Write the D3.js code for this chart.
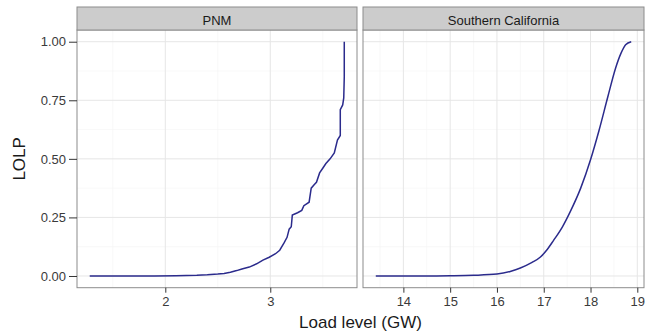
<!DOCTYPE html>
<html>
<head>
<meta charset="utf-8">
<script src="https://cdn.jsdelivr.net/npm/d3@7"></script>
<style>
  html, body { margin: 0; padding: 0; background: #fff; }
  svg { display: block; font-family: 'Liberation Sans', Arial, sans-serif; }
</style>
</head>
<body>
<div id="chart"></div>
<script>
// Data
const panels = ['PNM', 'Southern California'];

const pnmLoad = [1.28, 1.9, 2.1, 2.3, 2.4, 2.5, 2.56, 2.62, 2.68, 2.73, 2.8, 2.87, 2.93, 2.99, 3.05, 3.09, 3.13, 3.16, 3.18, 3.2, 3.21, 3.26, 3.3, 3.32, 3.37, 3.39, 3.42, 3.44, 3.47, 3.5, 3.53, 3.57, 3.61, 3.64, 3.667, 3.667, 3.69, 3.70, 3.705, 3.705];
const pnmLolp = [0, 0, 0.001, 0.003, 0.005, 0.008, 0.011, 0.016, 0.023, 0.03, 0.038, 0.052, 0.068, 0.08, 0.095, 0.11, 0.14, 0.165, 0.2, 0.21, 0.26, 0.27, 0.28, 0.3, 0.315, 0.375, 0.39, 0.40, 0.44, 0.46, 0.48, 0.5, 0.525, 0.58, 0.60, 0.71, 0.73, 0.76, 0.85, 1.0];

const socalLoad = [13.41, 14.5, 15.0, 15.5, 16.0, 16.3, 16.5, 16.75, 16.93, 17.07, 17.21, 17.4, 17.58, 17.79, 18.0, 18.18, 18.37, 18.54, 18.65, 18.75, 18.87];
const socalLolp = [0, 0, 0.001, 0.003, 0.008, 0.02, 0.034, 0.058, 0.081, 0.112, 0.152, 0.21, 0.28, 0.375, 0.496, 0.62, 0.765, 0.89, 0.95, 0.987, 1.0];

const yTicks = [0, 0.25, 0.5, 0.75, 1];
const yMinor = [0.125, 0.375, 0.625, 0.875];
const pnmTicks = [2, 3];
const pnmMinor = [1.5, 2.5, 3.5];
const socalTicks = [14, 15, 16, 17, 18, 19];
const socalMinor = [13.5, 14.5, 15.5, 16.5, 17.5, 18.5];

const width = 653, height = 335;
const lineColor = '#2b2b8c';
const fontFam = "'Liberation Sans', Arial, sans-serif";

const svg = d3.select('#chart').append('svg')
    .attr('width', width)
    .attr('height', height);

svg.append('rect').attr('width', width).attr('height', height).attr('fill', '#fff');

const stripTop = 7, stripH = 23;
const panelTop = stripTop + stripH, panelBottom = 287.7;

// y scale with ggplot style 5% expansion
const y = d3.scaleLinear().domain([-0.05, 1.05]).range([panelBottom, panelTop]);

function expand(ext) {
    const r = ext[1] - ext[0];
    return [ext[0] - r * 0.05, ext[1] + r * 0.05];
}

const facets = [
    { name: panels[0], load: pnmLoad, lolp: pnmLolp, ticks: pnmTicks, minor: pnmMinor, x0: 77, x1: 357, curve: d3.curveLinear },
    { name: panels[1], load: socalLoad, lolp: socalLolp, ticks: socalTicks, minor: socalMinor, x0: 363, x1: 644, curve: d3.curveMonotoneX }
];

facets.forEach(f => {
    const x = d3.scaleLinear().domain(expand(d3.extent(f.load))).range([f.x0, f.x1]);
    const g = svg.append('g');
    const w = f.x1 - f.x0;

    // minor grid
    g.append('g').selectAll('line').data(yMinor).join('line')
        .attr('x1', f.x0).attr('x2', f.x1)
        .attr('y1', d => y(d)).attr('y2', d => y(d))
        .attr('stroke', '#f5f5f5').attr('stroke-width', 0.7);
    g.append('g').selectAll('line').data(f.minor).join('line')
        .attr('x1', d => x(d)).attr('x2', d => x(d))
        .attr('y1', panelTop).attr('y2', panelBottom)
        .attr('stroke', '#f5f5f5').attr('stroke-width', 0.7);

    // major grid
    g.append('g').selectAll('line').data(yTicks).join('line')
        .attr('x1', f.x0).attr('x2', f.x1)
        .attr('y1', d => y(d)).attr('y2', d => y(d))
        .attr('stroke', '#e6e6e6').attr('stroke-width', 1);
    g.append('g').selectAll('line').data(f.ticks).join('line')
        .attr('x1', d => x(d)).attr('x2', d => x(d))
        .attr('y1', panelTop).attr('y2', panelBottom)
        .attr('stroke', '#e6e6e6').attr('stroke-width', 1);

    // data line
    const data = f.load.map((d, i) => [d, f.lolp[i]]);
    g.append('path')
        .datum(data)
        .attr('fill', 'none')
        .attr('stroke', lineColor)
        .attr('stroke-width', 1.5)
        .attr('d', d3.line().curve(f.curve).x(d => x(d[0])).y(d => y(d[1])));

    // panel border
    g.append('rect')
        .attr('x', f.x0).attr('y', panelTop)
        .attr('width', w).attr('height', panelBottom - panelTop)
        .attr('fill', 'none').attr('stroke', '#8c8c8c').attr('stroke-width', 1);

    // strip
    g.append('rect')
        .attr('x', f.x0).attr('y', stripTop)
        .attr('width', w).attr('height', stripH)
        .attr('fill', '#cccccc').attr('stroke', '#8c8c8c').attr('stroke-width', 1);
    g.append('text')
        .attr('x', f.x0 + w / 2).attr('y', 25)
        .attr('text-anchor', 'middle')
        .style('font-size', '13px')
        .attr('fill', '#1a1a1a')
        .text(f.name);

    // x axis
    const xAxis = g.append('g')
        .attr('transform', `translate(0,${panelBottom})`)
        .call(d3.axisBottom(x).tickValues(f.ticks).tickSize(5).tickPadding(4).tickFormat(d3.format('d')));
    xAxis.select('.domain').remove();
    xAxis.selectAll('line').attr('stroke', '#333');
    xAxis.selectAll('text').style('font-size', '13px').attr('fill', '#3a3a3a')
        .style('font-family', fontFam);
});

// y axis (left panel only)
const yAxis = svg.append('g')
    .attr('transform', `translate(${facets[0].x0},0)`)
    .call(d3.axisLeft(y).tickValues(yTicks).tickSize(8).tickPadding(3).tickFormat(d3.format('.2f')));
yAxis.select('.domain').remove();
yAxis.selectAll('line').attr('stroke', '#333');
yAxis.selectAll('text').style('font-size', '13px').attr('fill', '#3a3a3a')
    .style('font-family', fontFam);

// axis titles
svg.append('text')
    .attr('x', (facets[0].x0 + facets[1].x1) / 2)
    .attr('y', 328)
    .attr('text-anchor', 'middle')
    .style('font-size', '17px')
    .attr('fill', '#1a1a1a')
    .text('Load level (GW)');

svg.append('text')
    .attr('transform', `translate(25,${(panelTop + panelBottom) / 2}) rotate(-90)`)
    .attr('text-anchor', 'middle')
    .style('font-size', '17px')
    .attr('fill', '#1a1a1a')
    .text('LOLP');
</script>
</body>
</html>
